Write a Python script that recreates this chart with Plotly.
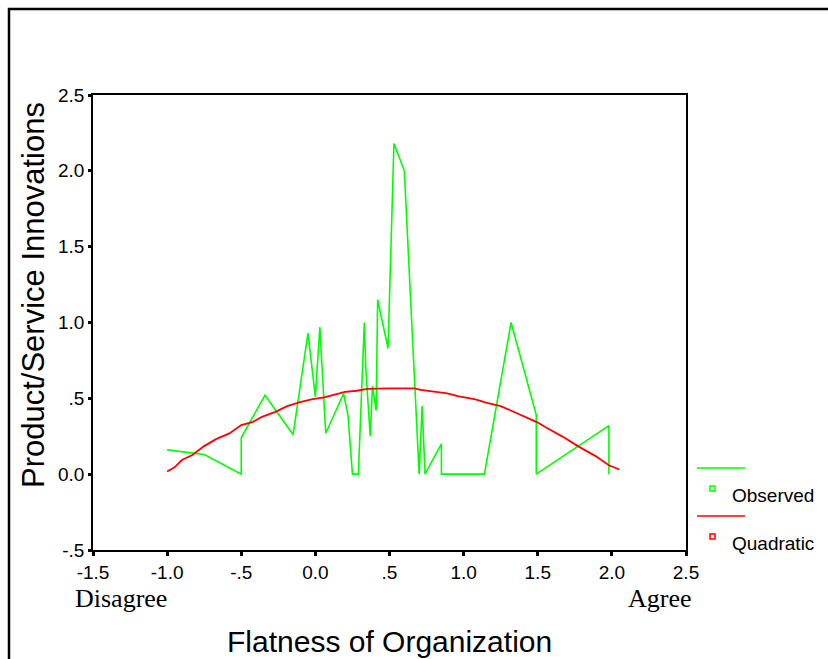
import plotly.graph_objects as go

# Observed series
obs_x = [-1.0, -0.75, -0.5, -0.5, -0.34, -0.15, -0.05, 0.0, 0.03, 0.07, 0.19, 0.22,
         0.25, 0.29, 0.33, 0.34, 0.37, 0.385, 0.41, 0.42, 0.49, 0.53, 0.60, 0.70,
         0.72, 0.74, 0.85, 0.85, 1.14, 1.32, 1.49, 1.49, 1.98, 1.98]
obs_y = [0.16, 0.13, 0.0, 0.24, 0.52, 0.26, 0.93, 0.51, 0.97, 0.27, 0.53, 0.39,
         0.0, 0.0, 1.0, 0.70, 0.25, 0.58, 0.42, 1.15, 0.83, 2.18, 2.0, 0.0,
         0.45, 0.0, 0.2, 0.0, 0.0, 1.0, 0.39, 0.0, 0.32, 0.0]

# Quadratic fit curve
quad_x = [-1.0, -0.95, -0.90, -0.83, -0.75, -0.67, -0.58, -0.50, -0.42, -0.36,
          -0.27, -0.19, -0.11, -0.02, 0.06, 0.12, 0.20, 0.28, 0.35, 0.50, 0.57,
          0.67, 0.71, 0.79, 0.89, 0.96, 1.08, 1.15, 1.25, 1.31, 1.41, 1.49,
          1.58, 1.67, 1.77, 1.89, 1.98, 2.05]
quad_y = [0.017, 0.045, 0.093, 0.126, 0.185, 0.231, 0.269, 0.324, 0.345, 0.378,
          0.411, 0.449, 0.474, 0.495, 0.507, 0.522, 0.542, 0.550, 0.562, 0.566, 0.566,
          0.566, 0.555, 0.544, 0.533, 0.515, 0.493, 0.471, 0.449, 0.423, 0.378, 0.345,
          0.295, 0.246, 0.185, 0.119, 0.059, 0.031]

x_ticks = [-1.5, -1.0, -0.5, 0.0, 0.5, 1.0, 1.5, 2.0, 2.5]
x_tick_text = ["-1.5", "-1.0", "-.5", "0.0", ".5", "1.0", "1.5", "2.0", "2.5"]
y_ticks = [-0.5, 0.0, 0.5, 1.0, 1.5, 2.0, 2.5]
y_tick_text = ["-.5", "0.0", ".5", "1.0", "1.5", "2.0", "2.5"]

GREEN = "#00FF00"
RED = "#FF0000"
SANS = "Liberation Sans, Arial, sans-serif"
SERIF = "Liberation Serif, Times New Roman, serif"

W, H = 828, 659
L, R, T, B = 93, 142, 95, 109
pw, ph = W - L - R, H - T - B


def px(xp):
    return (xp - L) / pw


def py(yp):
    return (H - B - yp) / ph


fig = go.Figure()
fig.add_trace(go.Scatter(x=obs_x, y=obs_y, mode="lines", name="Observed",
                         line=dict(color=GREEN, width=1.6), showlegend=False))
fig.add_trace(go.Scatter(x=quad_x, y=quad_y, mode="lines", name="Quadratic",
                         line=dict(color=RED, width=1.8), showlegend=False))

shapes = []
# outer frame
shapes.append(dict(type="rect", xref="paper", yref="paper",
                   x0=px(9), x1=px(840), y0=py(9), y1=py(680),
                   line=dict(color="black", width=2.5), layer="below"))
# legend samples
for yline, ysq, col in [(468, 488.5, GREEN), (516, 536.5, RED)]:
    shapes.append(dict(type="line", xref="paper", yref="paper",
                       x0=px(697), x1=px(745), y0=py(yline), y1=py(yline),
                       line=dict(color=col, width=1.5)))
    shapes.append(dict(type="rect", xref="paper", yref="paper",
                       x0=px(710), x1=px(715), y0=py(ysq - 2.5), y1=py(ysq + 2.5),
                       line=dict(color=col, width=1.5)))

annotations = [
    dict(text="Observed", xref="paper", yref="paper", x=px(730), y=py(495),
         xanchor="left", yanchor="middle", showarrow=False,
         font=dict(family=SANS, size=19, color="black")),
    dict(text="Quadratic", xref="paper", yref="paper", x=px(730), y=py(543),
         xanchor="left", yanchor="middle", showarrow=False,
         font=dict(family=SANS, size=19, color="black")),
    dict(text="Disagree", xref="paper", yref="paper", x=px(73), y=py(598),
         xanchor="left", yanchor="middle", showarrow=False,
         font=dict(family=SERIF, size=26, color="black")),
    dict(text="Agree", xref="paper", yref="paper", x=px(694), y=py(598),
         xanchor="right", yanchor="middle", showarrow=False,
         font=dict(family=SERIF, size=26, color="black")),
    dict(text="Flatness of Organization", xref="paper", yref="paper", x=px(389), y=py(641),
         xanchor="center", yanchor="middle", showarrow=False,
         font=dict(family=SANS, size=30, color="black")),
    dict(text="Product/Service Innovations", xref="paper", yref="paper", x=px(33), y=py(295),
         xanchor="center", yanchor="middle", showarrow=False, textangle=-90,
         font=dict(family=SANS, size=31, color="black")),
]

fig.update_layout(
    width=W, height=H,
    margin=dict(l=L, r=R, t=T, b=B, pad=0),
    paper_bgcolor="white", plot_bgcolor="white",
    shapes=shapes, annotations=annotations,
    showlegend=False,
)
fig.update_xaxes(range=[-1.5, 2.5], tickvals=x_ticks, ticktext=x_tick_text,
                 showgrid=False, zeroline=False, showline=True, mirror=True,
                 linecolor="black", linewidth=2, ticks="outside", ticklen=4,
                 tickwidth=3, tickcolor="black",
                 tickfont=dict(family=SANS, size=19, color="black"))
fig.update_yaxes(range=[-0.5, 2.5], tickvals=y_ticks, ticktext=y_tick_text,
                 showgrid=False, zeroline=False, showline=True, mirror=True,
                 linecolor="black", linewidth=1.5, ticks="outside", ticklen=3,
                 tickwidth=3, tickcolor="black",
                 tickfont=dict(family=SANS, size=19, color="black"))

fig.write_html("out.html", config={"displayModeBar": False},
               post_script="document.body.style.margin='0px';document.body.style.overflow='hidden';")
